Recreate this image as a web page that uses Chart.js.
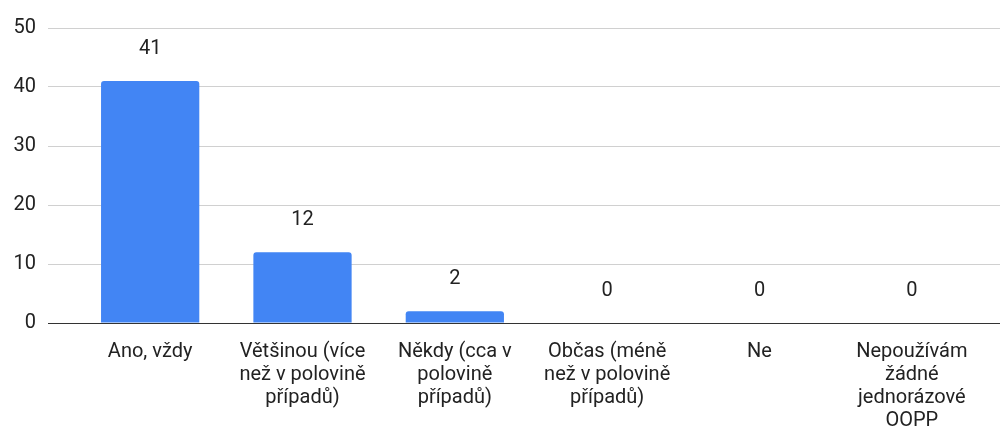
<!DOCTYPE html>
<html lang="cs">
<head>
    <meta charset="UTF-8">
    <title>Graf odpovědí</title>
    <script src="https://cdn.jsdelivr.net/npm/chart.js"></script>
    <style>
        body { margin: 0; background: #fff; }
        #wrap { width: 1000px; height: 429px; }
    </style>
</head>
<body>
    <div id="wrap"><canvas id="chart" width="1000" height="429"></canvas></div>
    <script>
        // data
        const categories = [
            'Ano, vždy',
            ['Většinou (více', 'než v polovině', 'případů)'],
            ['Někdy (cca v', 'polovině', 'případů)'],
            ['Občas (méně', 'než v polovině', 'případů)'],
            'Ne',
            ['Nepoužívám', 'žádné', 'jednorázové', 'OOPP']
        ];
        const counts = [41, 12, 2, 0, 0, 0];
        const yTicks = [0, 10, 20, 30, 40, 50];

        const textColor = '#222';
        const font = { family: 'Roboto, Arial, sans-serif', size: 20 };

        // value labels above each bar
        const barLabels = {
            id: 'barLabels',
            afterDatasetsDraw(chart) {
                const ctx = chart.ctx;
                const meta = chart.getDatasetMeta(0);
                ctx.save();
                ctx.fillStyle = textColor;
                ctx.font = font.size + 'px ' + font.family;
                ctx.textAlign = 'center';
                ctx.textBaseline = 'alphabetic';
                meta.data.forEach((bar, i) => {
                    ctx.fillText(String(counts[i]), bar.x, bar.y - 27);
                });
                ctx.restore();
            }
        };

        const gridColor = c => c.tick && c.tick.value === 0 ? '#333' : '#d0d0d0';

        new Chart(document.getElementById('chart'), {
            type: 'bar',
            data: {
                labels: categories,
                datasets: [{
                    data: counts,
                    backgroundColor: '#4285f4',
                    borderRadius: { topLeft: 3, topRight: 3 },
                    borderSkipped: 'start',
                    barPercentage: 1,
                    categoryPercentage: 0.645
                }]
            },
            options: {
                responsive: false,
                animation: false,
                layout: { padding: { top: 28, left: 0, right: 0, bottom: 0 } },
                plugins: { legend: { display: false }, tooltip: { enabled: false } },
                scales: {
                    x: {
                        grid: { display: false },
                        border: { display: false },
                        ticks: { color: textColor, font: { ...font, lineHeight: '23px' }, padding: 9, maxRotation: 0, autoSkip: false },
                        afterFit(s) { s.height = 106; }
                    },
                    y: {
                        min: 0,
                        max: 50,
                        afterBuildTicks(s) { s.ticks = yTicks.map(v => ({ value: v })); },
                        grid: { color: gridColor, tickColor: gridColor, tickLength: 26, lineWidth: 1 },
                        border: { display: false },
                        ticks: { color: textColor, font: font, padding: 12 },
                        afterFit(s) { s.width = 74; }
                    },
                    y2: {
                        position: 'right',
                        min: 0,
                        max: 50,
                        afterBuildTicks(s) { s.ticks = yTicks.map(v => ({ value: v })); },
                        grid: { drawOnChartArea: false, tickColor: gridColor, tickLength: 12 },
                        border: { display: false },
                        ticks: { display: false },
                        afterFit(s) { s.width = 12; }
                    }
                }
            },
            plugins: [barLabels]
        });
    </script>
</body>
</html>
